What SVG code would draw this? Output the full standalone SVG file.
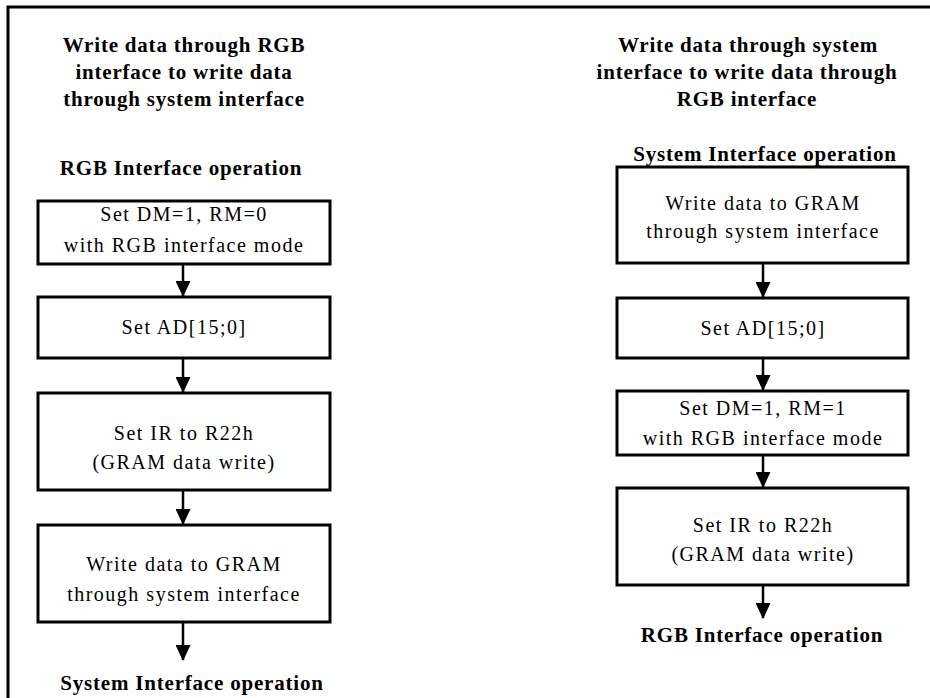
<svg xmlns="http://www.w3.org/2000/svg" width="930" height="698" viewBox="0 0 930 698">
<defs>
<style>
.box{fill:#fff;stroke:#000;stroke-width:3}
.t{font-family:"Liberation Serif",serif;font-size:20px;letter-spacing:1.5px;text-anchor:middle;fill:#000}
.h{font-family:"Liberation Serif",serif;font-size:21px;font-weight:bold;text-anchor:middle;fill:#000;letter-spacing:0.8px}
.c{stroke:#000;stroke-width:2.5;fill:none}
.frame{stroke:#000;stroke-width:3;fill:none}
</style>
<marker id="ah" markerWidth="16" markerHeight="15" refX="15" refY="7.5" orient="auto" markerUnits="userSpaceOnUse">
<path d="M0,0 L16,7.5 L0,15 Z" fill="#000"/>
</marker>
</defs>
<rect width="930" height="698" fill="#fff"/>
<path class="frame" d="M8,698 V7 H930"/>
<g id="titles">
<text class="h" x="184" y="52">Write data through RGB</text>
<text class="h" x="184" y="79">interface to write data</text>
<text class="h" x="184" y="106">through system interface</text>
<text class="h" x="181" y="175">RGB Interface operation</text>
<text class="h" x="748" y="52">Write data through system</text>
<text class="h" x="747" y="79">interface to write data through</text>
<text class="h" x="747" y="106">RGB interface</text>
<text class="h" x="765" y="161">System Interface operation</text>
<text class="h" x="192" y="690">System Interface operation</text>
<text class="h" x="762" y="642">RGB Interface operation</text>
</g>
<g id="L1"><rect class="box" x="38" y="201" width="292" height="63"/>
<text class="t" x="184" y="221">Set DM=1, RM=0</text><text class="t" x="184" y="252">with RGB interface mode</text></g>
<g id="L2"><rect class="box" x="38" y="297" width="292" height="61"/>
<text class="t" x="184" y="334">Set AD[15;0]</text></g>
<g id="L3"><rect class="box" x="38" y="393" width="292" height="97"/>
<text class="t" x="184" y="440">Set IR to R22h</text><text class="t" x="184" y="469">(GRAM data write)</text></g>
<g id="L4"><rect class="box" x="38" y="525" width="292" height="97"/>
<text class="t" x="184" y="571">Write data to GRAM</text><text class="t" x="184" y="601">through system interface</text></g>
<g id="R1"><rect class="box" x="617" y="167" width="291" height="96"/>
<text class="t" x="763" y="210">Write data to GRAM</text><text class="t" x="763" y="238">through system interface</text></g>
<g id="R2"><rect class="box" x="617" y="298" width="291" height="60"/>
<text class="t" x="763" y="335">Set AD[15;0]</text></g>
<g id="R3"><rect class="box" x="617" y="391" width="291" height="64"/>
<text class="t" x="763" y="415">Set DM=1, RM=1</text><text class="t" x="763" y="445">with RGB interface mode</text></g>
<g id="R4"><rect class="box" x="617" y="488" width="291" height="97"/>
<text class="t" x="763" y="532">Set IR to R22h</text><text class="t" x="763" y="561">(GRAM data write)</text></g>
<g id="connectors">
<line class="c" x1="183" y1="265" x2="183" y2="296" marker-end="url(#ah)"/>
<line class="c" x1="183" y1="359" x2="183" y2="392" marker-end="url(#ah)"/>
<line class="c" x1="183" y1="491" x2="183" y2="524" marker-end="url(#ah)"/>
<line class="c" x1="183" y1="623" x2="183" y2="660" marker-end="url(#ah)"/>
<line class="c" x1="763" y1="264" x2="763" y2="297" marker-end="url(#ah)"/>
<line class="c" x1="763" y1="359" x2="763" y2="390" marker-end="url(#ah)"/>
<line class="c" x1="763" y1="456" x2="763" y2="487" marker-end="url(#ah)"/>
<line class="c" x1="763" y1="586" x2="763" y2="618" marker-end="url(#ah)"/>
</g>
</svg>
